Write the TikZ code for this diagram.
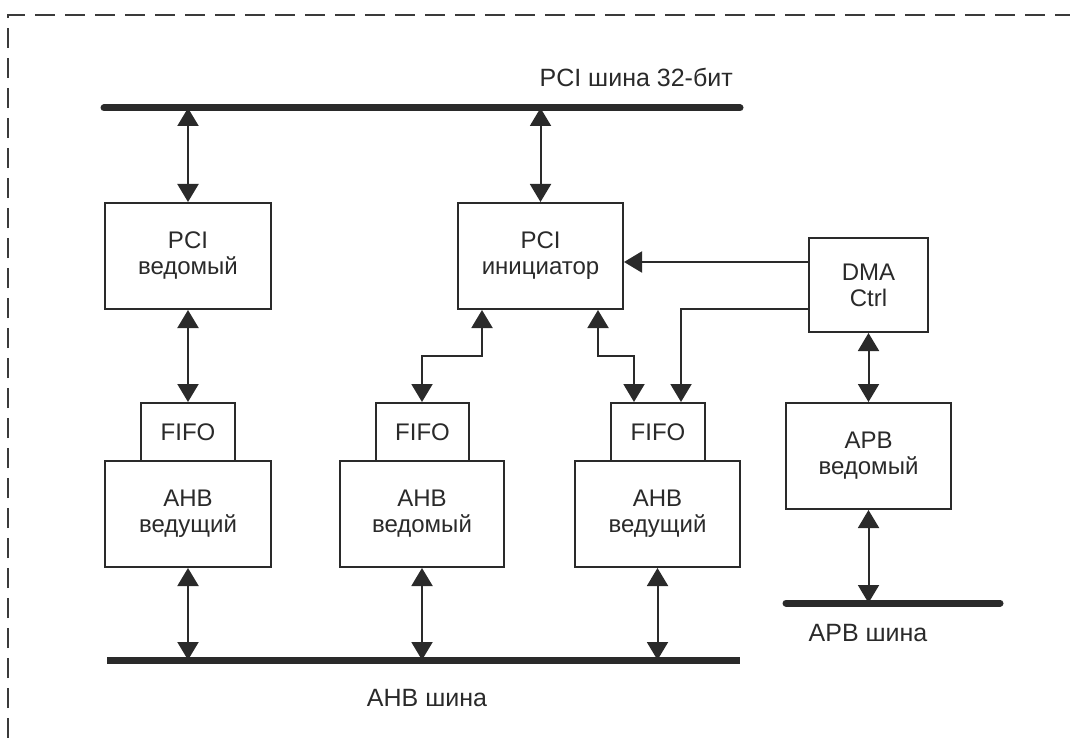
\documentclass[tikz,border=0pt]{standalone}
\usepackage{fontspec}
\setmainfont{Liberation Sans}
\usetikzlibrary{arrows.meta}
\definecolor{ink}{HTML}{2A2A2A}
\definecolor{frame}{HTML}{3A3A3A}
\begin{document}
\begin{tikzpicture}[x=1pt,y=-1pt,
  every node/.style={text=ink,font=\fontsize{24}{26}\selectfont},
  blk/.style={draw=ink,line width=2pt,fill=white,inner sep=0pt,align=center},
  conn/.style={draw=ink,line width=2pt},
  dbl/.style={conn,{Triangle[width=21pt,length=18pt]}-{Triangle[width=21pt,length=18pt]}},
  sgl/.style={conn,-{Triangle[width=21pt,length=18pt]}},
  bus/.style={draw=ink,line width=7pt},
  buslabel/.style={font=\fontsize{25}{28}\selectfont,inner sep=0pt}]
\useasboundingbox (0,0) rectangle (1070,738);
% dashed frame
\draw[frame,line width=2pt,dash pattern=on 20pt off 10pt] (8,738) -- (8,15) -- (1070,15);
% buses
\coordinate (pciL) at (104,108); \coordinate (pciR) at (740,108);
\coordinate (ahbL) at (107,660); \coordinate (ahbR) at (740,660);
\coordinate (apbL) at (786,603); \coordinate (apbR) at (1000,603);
\draw[bus,line cap=round] (pciL) -- (pciR);
\draw[bus] (ahbL) -- (ahbR);
\draw[bus,line cap=round] (apbL) -- (apbR);
\node[buslabel,anchor=base east] (pcilab) at (733,87) {PCI шина 32-бит};
\node[buslabel,anchor=base] (ahblab) at (427,706) {AHB шина};
\node[buslabel,anchor=base] (apblab) at (868,641) {APB шина};
% blocks
\node[blk,minimum width=166pt,minimum height=106pt] (pcis) at (188,256) {PCI\\ведомый};
\node[blk,minimum width=165pt,minimum height=106pt] (pcii) at (540.5,256) {PCI\\инициатор};
\node[blk,minimum width=119pt,minimum height=94pt] (dma) at (868.5,285) {DMA\\Ctrl};
\node[blk,minimum width=165pt,minimum height=106pt] (apbs) at (868.5,456) {APB\\ведомый};
\node[blk,minimum width=166pt,minimum height=106pt] (ahb1) at (188,514) {AHB\\ведущий};
\node[blk,minimum width=164pt,minimum height=106pt] (ahb2) at (422,514) {AHB\\ведомый};
\node[blk,minimum width=165pt,minimum height=106pt] (ahb3) at (657.5,514) {AHB\\ведущий};
\node[blk,minimum width=94pt,minimum height=58pt] (fifo1) at (188,432) {FIFO};
\node[blk,minimum width=93pt,minimum height=58pt] (fifo2) at (422.5,432) {FIFO};
\node[blk,minimum width=94pt,minimum height=58pt] (fifo3) at (658,432) {FIFO};
% bus taps
\coordinate (p1) at (188,108); \coordinate (p2) at (540.5,108);
\coordinate (a1) at (188,660); \coordinate (a2) at (422,660); \coordinate (a3) at (657.5,660);
\coordinate (b1) at (868.5,603);
\draw[dbl] (p1) -- (pcis.north);
\draw[dbl] (p2) -- (pcii.north);
\draw[dbl] (pcis.south) -- (fifo1.north);
\draw[dbl] (ahb1.south) -- (a1);
\draw[dbl] (ahb2.south) -- (a2);
\draw[dbl] (ahb3.south) -- (a3);
\draw[dbl] (dma.south) -- (apbs.north);
\draw[dbl] (apbs.south) -- (b1);
% PCI initiator to FIFOs
\draw[dbl] (pcii.south -| 482,0) -- (482,356) -- (422,356) -- (fifo2.north -| 422,0);
\draw[dbl] (pcii.south -| 598,0) -- (598,356) -- (634,356) -- (fifo3.north -| 634,0);
% DMA control lines
\draw[sgl] (dma.west |- 0,262) -- (pcii.east |- 0,262);
\draw[sgl] (dma.west |- 0,309) -- (681,309) -- (fifo3.north -| 681,0);
\end{tikzpicture}
\end{document}
